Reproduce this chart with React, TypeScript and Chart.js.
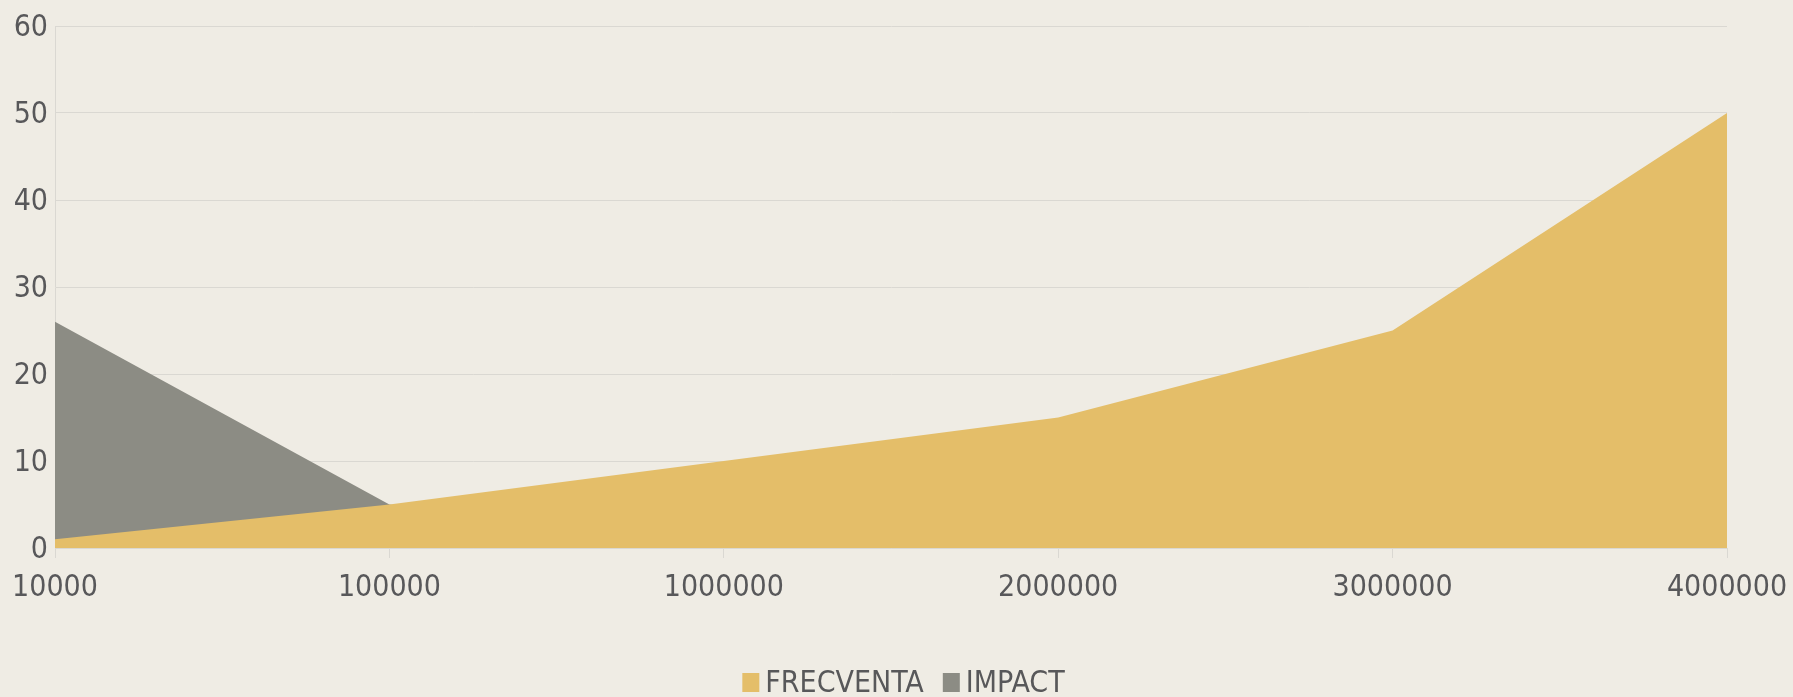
import React, { useEffect, useRef } from "react";
import { Chart, registerables } from "chart.js";

Chart.register(...registerables);

const categories = ["10000", "100000", "1000000", "2000000", "3000000", "4000000"];
const frecventa = [1, 5, 10, 15, 25, 50];
const impact = [26, 5, 0, 0, 0, 0];
const yTicks = [0, 10, 20, 30, 40, 50, 60];

const FONT = "'DejaVu Sans Condensed', 'DejaVu Sans', sans-serif";
const FONT_SIZE = 30;
const TEXT = "#58585a";
const BG = "#efece4";
const GRID = "#dad8d2";

export default function App() {
  const ref = useRef<HTMLCanvasElement | null>(null);
  useEffect(() => {
    document.body.style.margin = "0";
    document.body.style.background = BG;
    const bgPlugin = {
      id: "bg",
      beforeDraw(chart: any) {
        const c = chart.ctx;
        c.save();
        c.fillStyle = BG;
        c.fillRect(0, 0, chart.width, chart.height);
        c.restore();
      },
    };
    const legendPlugin = {
      id: "customLegend",
      afterDraw(chart: any) {
        const c = chart.ctx;
        const ds = chart.data.datasets;
        const boxW = 17;
        const boxH = 19;
        const gap = 6;
        const itemGap = 19;
        c.save();
        c.font = `${FONT_SIZE}px ${FONT}`;
        let total = 0;
        ds.forEach((d: any, i: number) => {
          total += boxW + gap + c.measureText(d.label).width + (i < ds.length - 1 ? itemGap : 0);
        });
        let x = chart.width / 2 + 7 - total / 2;
        const baseline = 692;
        c.textBaseline = "alphabetic";
        c.textAlign = "left";
        ds.forEach((d: any) => {
          c.fillStyle = d.backgroundColor;
          c.fillRect(x, baseline - boxH, boxW, boxH);
          x += boxW + gap;
          c.fillStyle = TEXT;
          c.fillText(d.label, x, baseline);
          x += c.measureText(d.label).width + itemGap;
        });
        c.restore();
      },
    };
    const chart = new Chart(ref.current as HTMLCanvasElement, {
      type: "line",
      data: {
        labels: categories,
        datasets: [
          {
            label: "FRECVENTA",
            data: frecventa,
            backgroundColor: "#e4be69",
            borderColor: "#e4be69",
            borderWidth: 0,
            pointRadius: 0,
            fill: "origin",
            tension: 0,
          },
          {
            label: "IMPACT",
            data: impact,
            backgroundColor: "#8c8c84",
            borderColor: "#8c8c84",
            borderWidth: 0,
            pointRadius: 0,
            fill: "origin",
            tension: 0,
          },
        ],
      },
      options: {
        animation: false,
        responsive: false,
        maintainAspectRatio: false,
        layout: { padding: { top: 26, right: 66, left: 0, bottom: 87 } },
        plugins: {
          tooltip: { enabled: false },
          legend: { display: false },
        },
        scales: {
          x: {
            type: "category",
            offset: false,
            grid: {
              drawOnChartArea: false,
              drawTicks: true,
              tickLength: 10,
              color: GRID,
            },
            border: { display: true, color: GRID },
            ticks: {
              font: { family: FONT, size: FONT_SIZE },
              color: TEXT,
              padding: 12,
              maxRotation: 0,
              autoSkip: false,
            },
            afterFit(scale: any) {
              scale.height = 62;
              scale.paddingLeft = 0;
              scale.paddingRight = 0;
            },
          },
          y: {
            min: 0,
            max: 60,
            afterBuildTicks(scale: any) {
              scale.ticks = yTicks.map((v) => ({ value: v }));
            },
            grid: {
              drawTicks: false,
              color: GRID,
            },
            border: { display: true, color: GRID },
            ticks: {
              font: { family: FONT, size: FONT_SIZE },
              color: TEXT,
              padding: 7,
              labelOffset: 2,
            },
            afterFit(scale: any) {
              scale.width = 55;
              scale.paddingTop = 0;
              scale.paddingBottom = 0;
            },
          },
        },
      },
      plugins: [bgPlugin, legendPlugin],
    });
    return () => chart.destroy();
  }, []);
  return (
    <div style={{ position: "absolute", left: 0, top: 0, width: 1793, height: 697 }}>
      <canvas ref={ref} width={1793} height={697} style={{ display: "block" }} />
    </div>
  );
}
